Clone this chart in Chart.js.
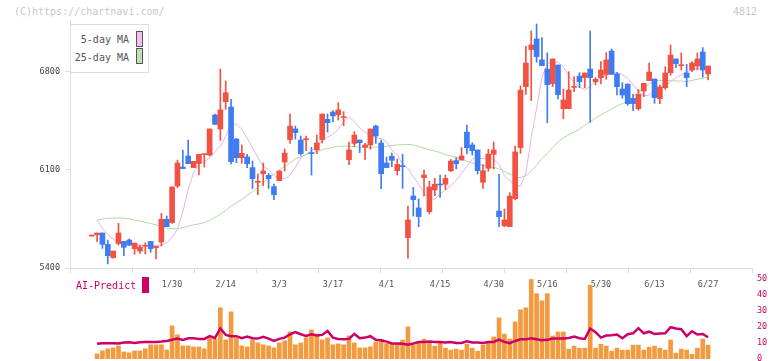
<!DOCTYPE html>
<html>
<head>
<meta charset="utf-8">
<script src="https://cdn.jsdelivr.net/npm/chart.js@4.4.1/dist/chart.umd.min.js"></script>
<style>
html,body{margin:0;padding:0;background:#fff;overflow:hidden;width:772px;height:361px}
body{position:relative;font-family:"DejaVu Sans Mono",monospace}
canvas{position:absolute;left:0}
#main{top:0}
#vol{top:267px}
.t{position:absolute;white-space:pre;line-height:1;font-size:10px}
#legend{position:absolute;left:70px;top:24px;width:77px;height:47px;border:1px solid #ddd;background:#fff;z-index:2}
#legend .row{position:absolute;right:19px;font-size:10px;color:#555;line-height:1}
#legend .sw{position:absolute;left:65px;width:5px;height:14px;border:1px solid #555}
#aiBox{position:absolute;left:142px;top:277px;width:7px;height:16px;background:#cc0066;z-index:2}
#aiText{z-index:2}
</style>
</head>
<body>
<div class="t" style="left:14px;top:7px;color:#c8c8c8">(C)https://chartnavi.com/</div>
<div class="t" style="right:15px;top:7px;color:#c8c8c8">4812</div>
<canvas id="main" width="772" height="300"></canvas>
<canvas id="vol" width="772" height="102"></canvas>
<div id="legend">
  <div class="row" style="top:10px">5-day MA</div><div class="sw" style="top:6px;background:#f0c2f0"></div>
  <div class="row" style="top:28px">25-day MA</div><div class="sw" style="top:23px;background:#bfe0b2"></div>
</div>
<div class="t" id="aiText" style="left:76px;top:281px;color:#cc0066">AI-Predict</div>
<div id="aiBox"></div>
<script>
// daily candles
const opens=[5628,5638,5650,5569,5474,5574,5590,5600,5538,5521,5555,5590,5545,5586,5748,5724,5986,6121,6200,6117,
6147,6210,6207,6493,6393,6588,6550,6321,6188,6193,6117,6012,6074,6062,5981,6024,6157,6317,6393,6314,
6317,6219,6243,6317,6462,6514,6495,6474,6174,6290,6314,6262,6279,6414,6293,6150,6198,6095,6126,5617,
5914,5829,6045,5802,5957,5995,5998,6095,6167,6171,6371,6279,6243,6012,6112,6212,5807,5702,5695,5895,
6260,6695,6960,7036,6886,6821,6717,6850,6538,6538,6690,6771,6760,6821,6731,6760,6783,6950,6786,6679,
6714,6612,6538,6664,6738,6750,6610,6688,6795,6893,6845,6793,6814,6843,6943,6786];
const highs=[5630,5650,5650,5600,5521,5719,5590,5607,5578,5564,5581,5590,5555,5790,5771,5979,6171,6243,6314,6162,
6212,6212,6393,6500,6821,6736,6605,6326,6279,6212,6164,6071,6150,6076,6000,6093,6250,6500,6414,6343,
6343,6262,6350,6500,6500,6524,6581,6517,6300,6374,6314,6290,6393,6421,6314,6193,6221,6179,6212,5843,
5976,5893,6100,6021,6040,6064,6064,6176,6188,6259,6421,6295,6243,6138,6248,6300,6069,5821,5938,6271,
6700,6983,7093,7143,7045,6936,6893,6850,6679,6802,6767,6795,6793,7093,6760,6874,6938,6964,6798,6724,
6714,6640,6676,6719,6864,6750,6707,6838,6993,6893,6936,6855,6874,6936,6974,6843];
const lows=[5628,5588,5540,5429,5471,5564,5488,5559,5498,5505,5500,5512,5464,5557,5695,5719,5974,6110,6145,6117,
6064,6121,6200,6426,6312,6533,6143,6152,6148,6117,5967,5924,5988,5967,5888,6024,6093,6290,6321,6205,
6238,6064,6217,6293,6371,6443,6457,6417,6138,6267,6224,6174,6248,6290,5967,6117,6124,6064,5969,5469,
5771,5695,5914,5786,5917,5905,5960,6088,6107,6171,6214,6207,6071,5969,6090,6107,5695,5695,5695,5886,
6219,6640,6595,6869,6845,6438,6695,6607,6467,6538,6660,6688,6688,6440,6707,6714,6748,6783,6636,6612,
6562,6524,6526,6624,6738,6576,6574,6676,6776,6831,6814,6695,6802,6814,6764,6743];
const closes=[5630,5650,5569,5488,5521,5650,5548,5564,5578,5550,5560,5538,5555,5748,5695,5979,6150,6110,6145,6162,
6212,6212,6393,6426,6529,6652,6160,6188,6219,6145,6038,6017,6093,6038,5924,6093,6221,6414,6367,6217,
6319,6217,6293,6500,6438,6486,6529,6476,6243,6350,6295,6279,6393,6343,6074,6117,6169,6140,6124,5743,
5888,5767,6064,5979,5998,5993,6040,6164,6145,6200,6259,6238,6095,6095,6214,6243,5767,5743,5914,6229,
6671,6864,6993,6910,6845,6710,6893,6638,6600,6671,6695,6731,6793,6760,6748,6814,6886,6783,6695,6636,
6574,6574,6640,6719,6800,6617,6693,6793,6921,6860,6850,6760,6864,6893,6814,6843];

// moving averages
const ma5=[null,5743,5680,5640,5605,5580,5572,5566,5564,5564,5564,5562,5560,5564,5580,5620,5680,5800,5960,6080,
6140,6162,6185,6230,6270,6340,6420,6430,6390,6330,6260,6190,6124,6105,6060,6038,6038,6064,6120,6185,
6215,6235,6267,6310,6335,6355,6390,6445,6480,6445,6400,6370,6345,6332,6324,6302,6240,6210,6140,6110,
6050,6000,5935,5900,5890,5930,5955,5990,6025,6075,6125,6180,6183,6183,6183,6175,6140,6060,6020,5990,
5985,6080,6330,6540,6760,6855,6872,6870,6838,6770,6725,6690,6675,6695,6735,6760,6778,6790,6795,6780,
6755,6710,6660,6630,6636,6655,6680,6700,6731,6760,6780,6802,6815,6826,6826,6826];
const ma25=[null,5743,5750,5755,5757,5757,5756,5752,5742,5735,5726,5718,5708,5698,5685,5680,5680,5690,5698,5708,
5715,5725,5740,5762,5785,5812,5840,5865,5890,5918,5945,5975,6010,6040,6070,6100,6125,6150,6180,6195,
6210,6222,6231,6245,6255,6262,6270,6271,6270,6267,6264,6262,6262,6264,6266,6270,6275,6279,6281,6283,
6278,6268,6255,6245,6235,6225,6212,6200,6190,6178,6162,6150,6142,6134,6125,6118,6108,6090,6070,6052,
6045,6060,6090,6135,6180,6220,6260,6300,6330,6350,6370,6392,6420,6445,6470,6495,6515,6535,6558,6575,
6590,6620,6660,6690,6715,6738,6740,6740,6738,6736,6736,6731,6740,6748,6755,6765];

// lower panel
const volume=[null,3.1,5,6.3,6.9,8.1,4.4,3.8,5,5,6.3,8.8,8.8,8.8,5.6,20.6,15,8.1,8.1,7.5,
7.5,6.3,13.1,12.5,31.9,11.9,29.4,13.1,8.1,7.5,11.9,10,8.8,8.1,6.9,10,11.3,16.9,8.8,10,
13.1,18.1,15.6,11.9,13.1,8.8,9.4,8.8,14.4,10,6.9,6.9,7.5,10.6,12,9.6,9.2,9.2,11.8,20,
8.6,9.9,12.4,10.5,8,9.9,6.7,5.5,6.1,5.5,9.2,6.7,4.8,8.6,10.5,13.7,25.6,15.5,12.4,23.1,
30.7,31.9,49.6,40.8,36.3,40.8,14.3,16.8,16.8,6.1,8,6.7,6.7,46,6.7,9.2,8,4.8,6.7,5.5,
5.5,8.6,8.6,5.5,7.4,8,6.7,5.5,11.8,3.6,6.1,5.5,2.9,6.7,12.4,8.6];
const aiPredict=[null,9.4,9.8,9.8,9.8,9.6,10.2,10.4,10,10.4,10.6,10.6,10.6,10.8,11.2,12,12.7,11.9,12.9,12.9,
12.5,12.5,14.2,13.1,19,15,14.2,14.2,12.9,14,12.9,12.7,13.8,12.7,11.2,12.5,13.3,15.4,16.7,15.4,
14.4,15.4,14.6,15,17.5,13.3,12.5,12.3,12.5,15.6,12.9,13.3,14.2,11.9,11.6,10.8,9.6,9.6,9.4,8.8,
9.6,10.6,10.6,10.8,10.6,10.6,10.2,10.6,10,10,11,10.2,10.2,10,10.6,10.6,12,10.6,9.8,11.2,
12.3,12.3,12.9,12.3,11.7,11.9,12.7,12.7,12.7,13.1,14,12.9,12.5,19,16.7,13.3,14.6,14.8,15.2,12.9,
15.4,16,19.2,16,17,15.6,15.8,16,19.8,19,18.5,14.2,17.3,15.2,15.6,13.5];

const dateLabels=['1/30','2/14','3/3','3/17','4/1','4/15','4/30','5/16','5/30','6/13','6/27'];
const dateIdx=[15,25,35,45,55,65,75,85,95,105,115];
const priceTicks=[5400,6100,6800];
const volTicks=[0,10,20,30,40,50];

const UP='#f15242', DOWN='#3f7cf2';
const X_MIN=-4.05, X_MAX=123.19;
const idx=closes.map((_,i)=>i);
const colors=idx.map(i=>closes[i]>=opens[i]?UP:DOWN);
const font={family:'"DejaVu Sans Mono", monospace',size:8.5};
const pts=arr=>idx.map(i=>({x:i,y:arr[i]}));

new Chart(document.getElementById('main'),{
  type:'bar',
  data:{datasets:[
    {label:'body',data:idx.map(i=>({x:i,y:[opens[i],closes[i]]})),backgroundColor:colors,barThickness:5,minBarLength:1,grouped:false,order:0},
    {label:'wick',data:idx.map(i=>({x:i,y:[lows[i],highs[i]]})),backgroundColor:colors,barThickness:1,minBarLength:1,grouped:false,order:1},
    {type:'line',label:'5-day MA',data:pts(ma5),borderColor:'#e6b2ea',borderWidth:1,pointRadius:0,order:2},
    {type:'line',label:'25-day MA',data:pts(ma25),borderColor:'#b3d9a3',borderWidth:1,pointRadius:0,order:3}
  ]},
  options:{
    responsive:false,animation:false,devicePixelRatio:1,
    layout:{padding:{top:20,right:20,left:0,bottom:0}},
    plugins:{legend:{display:false},tooltip:{enabled:false}},
    scales:{
      x:{type:'linear',min:X_MIN,max:X_MAX,offset:false,weight:0,
        grid:{display:true,drawOnChartArea:false,drawTicks:true,tickLength:5,color:'#ddd',offset:false},
        border:{display:true,color:'#ddd'},
        ticks:{display:false},
        afterBuildTicks:s=>{s.ticks=Array.from({length:12},(_,n)=>({value:X_MIN+n*(X_MAX-X_MIN)/11}));},
        afterFit:s=>{s.height=6;}},
      x2:{type:'linear',position:'bottom',min:X_MIN,max:X_MAX,offset:false,weight:1,
        grid:{display:false,drawTicks:false},border:{display:false},
        ticks:{font,color:'#555',padding:6,maxRotation:0,autoSkip:false,
          callback:v=>{const k=dateIdx.indexOf(v);return k<0?'':dateLabels[k];}},
        afterBuildTicks:s=>{s.ticks=dateIdx.map(v=>({value:v}));},
        afterFit:s=>{s.height=26;}},
      y:{type:'linear',position:'left',min:5400,max:7171.4,
        grid:{display:true,drawOnChartArea:false,tickLength:5,color:'#ddd'},
        border:{color:'#ddd'},
        ticks:{font,color:'#444',padding:5,callback:v=>String(v)},
        afterBuildTicks:s=>{s.ticks=priceTicks.map(v=>({value:v}));},
        afterFit:s=>{s.width=70;}}
    }
  }
});

new Chart(document.getElementById('vol'),{
  type:'bar',
  data:{datasets:[
    {type:'line',label:'AI-Predict',data:pts(aiPredict),borderColor:'#cc0066',borderWidth:2.5,pointRadius:0,order:0},
    {label:'volume',data:pts(volume),backgroundColor:'#f29a40',barThickness:4,grouped:false,order:1}
  ]},
  options:{
    responsive:false,animation:false,devicePixelRatio:1,
    layout:{padding:{left:70,top:0,bottom:0,right:0}},
    plugins:{legend:{display:false},tooltip:{enabled:false}},
    scales:{
      x:{type:'linear',display:false,min:X_MIN,max:X_MAX,offset:false},
      y:{position:'right',min:0,max:51.1,
        grid:{display:false,drawTicks:false},border:{display:false},
        ticks:{font,color:'#cc0066',padding:5,callback:v=>String(v)},
        afterBuildTicks:s=>{s.ticks=volTicks.map(v=>({value:v}));},
        afterFit:s=>{s.width=20;}}
    }
  }
});
</script>
</body>
</html>
